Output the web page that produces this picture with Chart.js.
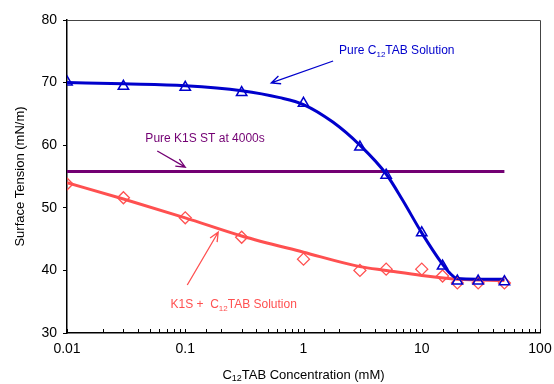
<!DOCTYPE html>
<html>
<head>
<meta charset="utf-8">
<script src="https://cdn.jsdelivr.net/npm/chart.js@4.4.0/dist/chart.umd.min.js"></script>
<style>
html,body{margin:0;padding:0;background:#fff;}
#wrap{width:554px;height:384px;}
</style>
</head>
<body>
<div id="wrap"><canvas id="tension" width="554" height="384"></canvas></div>
<script>
// measured points
const conc = [0.01, 0.03, 0.1, 0.3, 1, 3, 5, 10, 15, 20, 30, 50];
const pureTab = [70.1, 69.4, 69.25, 68.4, 66.7, 59.7, 55.2, 46.0, 40.7, 38.3, 38.3, 38.2];
const k1sTab = [53.8, 51.6, 48.4, 45.3, 41.8, 40.0, 40.2, 40.2, 39.1, 38.0, 38.0, 38.0];

// fitted curves
const pureFitX = [0.01, 0.03, 0.1, 0.3, 0.63, 1, 1.77, 3, 5, 6.9, 10, 14.7, 17.2, 20, 30, 50];
const pureFitY = [70.0, 69.8, 69.5, 68.7, 67.6, 66.5, 63.7, 60.0, 55.4, 51.2, 46.0, 41.2, 39.6, 38.7, 38.6, 38.6];
const k1sFitX = [0.01, 0.03, 0.1, 0.3, 1, 3, 5, 10, 20, 50];
const k1sFitY = [54.0, 51.4, 48.4, 45.5, 42.9, 40.6, 40.0, 39.2, 38.6, 38.4];

// pure K1S level
const k1sOnlyX = [0.01, 50];
const k1sOnlyY = [55.8, 55.8];

const yTicks = [30, 40, 50, 60, 70, 80];

const BLUE = '#0000cc';
const RED = '#ff5050';
const PURPLE = '#730073';
const FONT = '"Liberation Sans", Arial, sans-serif';

function pts(xs, ys){
    return xs.map((x, i) => ({x: x, y: ys[i]}));
}

function drawParts(ctx, parts, x, y, size, color, align){
    ctx.save();
    ctx.fillStyle = color;
    ctx.textBaseline = 'middle';
    ctx.textAlign = 'left';
    let total = 0;
    parts.forEach(p => {
        ctx.font = (p[1] ? Math.round(size*0.68) : size) + 'px ' + FONT;
        total += ctx.measureText(p[0]).width;
    });
    let cx = align === 'center' ? x - total/2 : x;
    parts.forEach(p => {
        ctx.font = (p[1] ? Math.round(size*0.68) : size) + 'px ' + FONT;
        ctx.fillText(p[0], cx, p[1] ? y + size*0.3 : y);
        cx += ctx.measureText(p[0]).width;
    });
    ctx.restore();
}

function arrow(ctx, x1, y1, x2, y2, color){
    const a = Math.atan2(y2 - y1, x2 - x1);
    const len = 10, spread = 0.42;
    ctx.save();
    ctx.strokeStyle = color;
    ctx.lineWidth = 1.3;
    ctx.beginPath();
    ctx.moveTo(x1, y1);
    ctx.lineTo(x2, y2);
    ctx.moveTo(x2 - len*Math.cos(a - spread), y2 - len*Math.sin(a - spread));
    ctx.lineTo(x2, y2);
    ctx.lineTo(x2 - len*Math.cos(a + spread), y2 - len*Math.sin(a + spread));
    ctx.stroke();
    ctx.restore();
}

const extras = {
    id: 'extras',
    afterDraw(chart){
        const ctx = chart.ctx;
        const xs = chart.scales.x, ys = chart.scales.y;
        const a = chart.chartArea;
        const X = v => xs.getPixelForValue(v);
        const Y = v => ys.getPixelForValue(v);

        // frame top/right
        ctx.save();
        ctx.strokeStyle = '#444';
        ctx.lineWidth = 1;
        ctx.beginPath();
        ctx.moveTo(a.left, a.top + 0.5);
        ctx.lineTo(a.right + 0.5, a.top + 0.5);
        ctx.lineTo(a.right + 0.5, a.bottom);
        ctx.stroke();

        // x ticks pointing inward
        ctx.strokeStyle = '#000';
        ctx.lineWidth = 1;
        ctx.beginPath();
        xs.ticks.forEach(t => {
            const px = Math.round(X(t.value)) + 0.5;
            ctx.moveTo(px, a.bottom);
            ctx.lineTo(px, a.bottom - 4);
        });
        ctx.stroke();
        ctx.restore();

        // annotations
        drawParts(ctx, [['Pure C', 0], ['12', 1], ['TAB Solution', 0]], X(2.0), Y(75.05), 12, BLUE, 'left');
        arrow(ctx, X(1.78), Y(73.45), X(0.533), Y(69.94), BLUE);

        drawParts(ctx, [['Pure K1S ST at 4000s', 0]], X(0.046), Y(61.0), 12, PURPLE, 'left');
        arrow(ctx, X(0.058), Y(59.07), X(0.1), Y(56.5), PURPLE);

        drawParts(ctx, [['K1S +  C', 0], ['12', 1], ['TAB Solution', 0]], X(0.075), Y(34.5), 12, RED, 'left');
        arrow(ctx, X(0.104), Y(37.67), X(0.19), Y(46.1), RED);

        // x axis title
        drawParts(ctx, [['C', 0], ['12', 1], ['TAB Concentration (mM)', 0]], (a.left + a.right)/2, 375, 13, '#000', 'center');
    }
};

const chart = new Chart(document.getElementById('tension').getContext('2d'), {
    type: 'scatter',
    data: {
        datasets: [
            {
                label: 'Pure C12TAB points',
                data: pts(conc, pureTab),
                showLine: false,
                pointStyle: 'triangle',
                pointRadius: 6,
                pointBorderWidth: 1.5,
                borderColor: BLUE,
                backgroundColor: 'rgba(0,0,0,0)',
                order: 1
            },
            {
                label: 'K1S + C12TAB points',
                data: pts(conc, k1sTab),
                showLine: false,
                pointStyle: 'rectRot',
                pointRadius: 6,
                pointBorderWidth: 1.3,
                borderColor: RED,
                backgroundColor: 'rgba(0,0,0,0)',
                order: 2
            },
            {
                label: 'Pure C12TAB fit',
                data: pts(pureFitX, pureFitY),
                showLine: true,
                pointRadius: 0,
                borderColor: BLUE,
                borderWidth: 3,
                cubicInterpolationMode: 'monotone',
                order: 3
            },
            {
                label: 'K1S + C12TAB fit',
                data: pts(k1sFitX, k1sFitY),
                showLine: true,
                pointRadius: 0,
                borderColor: RED,
                borderWidth: 3,
                cubicInterpolationMode: 'monotone',
                order: 4
            },
            {
                label: 'Pure K1S',
                data: pts(k1sOnlyX, k1sOnlyY),
                showLine: true,
                pointRadius: 0,
                borderColor: PURPLE,
                borderWidth: 3,
                order: 5
            }
        ]
    },
    options: {
        responsive: false,
        animation: false,
        devicePixelRatio: 1,
        layout: {padding: {left: 0, right: 14, top: 20, bottom: 0}},
        plugins: {
            legend: {display: false},
            tooltip: {enabled: false}
        },
        scales: {
            x: {
                type: 'logarithmic',
                min: 0.01,
                max: 100,
                afterFit: s => { s.height = 51; s.paddingLeft = 0; s.paddingRight = 0; },
                border: {display: true, color: '#000', width: 1.5},
                grid: {display: true, drawOnChartArea: false, drawTicks: false},
                ticks: {
                    autoSkip: false,
                    maxRotation: 0,
                    padding: 8,
                    color: '#000',
                    font: {family: FONT, size: 14},
                    callback: function(v){
                        const l = Math.log10(v);
                        if (Math.abs(l - Math.round(l)) < 1e-6) return String(v);
                        return '';
                    }
                }
            },
            y: {
                min: 30,
                max: 80,
                afterFit: s => { s.width = 67; },
                afterBuildTicks: s => { s.ticks = yTicks.map(v => ({value: v})); },
                border: {display: true, color: '#000', width: 1.5},
                grid: {display: true, drawOnChartArea: false, drawTicks: true, tickLength: 4, color: '#000'},
                ticks: {
                    padding: 6,
                    color: '#000',
                    font: {family: FONT, size: 14}
                },
                title: {
                    display: true,
                    text: 'Surface Tension (mN/m)',
                    color: '#000',
                    font: {family: FONT, size: 13},
                    padding: {top: 13}
                }
            }
        }
    },
    plugins: [extras]
});
</script>
</body>
</html>
